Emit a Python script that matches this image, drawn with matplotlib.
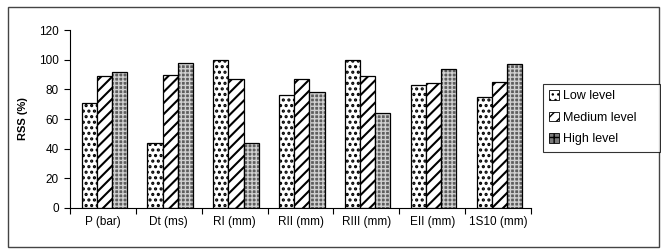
import matplotlib
matplotlib.use("Agg")
import matplotlib.pyplot as plt
import numpy as np
from matplotlib.patches import Rectangle, Patch

categories = ["P (bar)", "Dt (ms)", "RI (mm)", "RII (mm)", "RIII (mm)", "EII (mm)", "1S10 (mm)"]
low_level = [71, 44, 100, 76, 100, 83, 75]
medium_level = [89, 90, 87, 87, 89, 84, 85]
high_level = [92, 98, 44, 78, 64, 94, 97]
series_names = ["Low level", "Medium level", "High level"]
y_ticks = [0, 20, 40, 60, 80, 100, 120]

plt.rcParams['font.family'] = ['Liberation Sans', 'DejaVu Sans']
plt.rcParams['hatch.linewidth'] = 1.5

fig = plt.figure(figsize=(6.61, 2.49), dpi=100)
ax = fig.add_axes([70/661, 1-208/249, (531-70)/661, (208-30)/249])

x = np.arange(len(categories))
w = 0.23
offs = [-w + 0.02, 0.02, w + 0.02]

ax.bar(x + offs[0], low_level, w, facecolor='white', edgecolor='black', hatch='...', linewidth=0.9, label=series_names[0])
ax.bar(x + offs[1], medium_level, w, facecolor='white', edgecolor='black', hatch='///', linewidth=0.9, label=series_names[1])
plt.rcParams['hatch.linewidth'] = 1.0
ax.bar(x + offs[2], high_level, w, facecolor='#5e5e5e', edgecolor='#d0d0d0', hatch='++++', linewidth=0)
ax.bar(x + offs[2], high_level, w, facecolor='none', edgecolor='black', linewidth=0.9, label=series_names[2])

ax.set_xlim(-0.5, len(categories) - 0.5)
ax.set_ylim(0, 120)
ax.set_yticks(y_ticks)
ax.set_yticklabels([str(v) for v in y_ticks], fontsize=8.5)
ax.set_xticks(x)
ax.set_xticklabels(categories, fontsize=8.5)
ax.tick_params(axis='x', which='major', length=0, pad=6)
ax.set_xticks(np.arange(len(categories) + 1) - 0.5, minor=True)
ax.tick_params(axis='x', which='minor', length=4, direction='out', width=0.8)
ax.tick_params(axis='y', length=4, width=0.8, pad=4)
for s in ['top', 'right']:
    ax.spines[s].set_visible(False)
for s in ['left', 'bottom']:
    ax.spines[s].set_linewidth(0.8)
ax.set_ylabel("RSS (%)", fontsize=8, fontweight='bold', labelpad=8)

handles = [
    Patch(facecolor='white', edgecolor='black', hatch='...', linewidth=0.6),
    Patch(facecolor='white', edgecolor='black', hatch='///', linewidth=0.6),
    Patch(facecolor='#7a7a7a', edgecolor='black', hatch='++', linewidth=0.6),
]
leg = fig.legend(handles, series_names, loc='upper left',
                 bbox_to_anchor=(543/661, 1-150/249, (660-543)/661, (150-84)/249),
                 mode='expand',
                 fontsize=9, frameon=True, fancybox=False, edgecolor='black',
                 handlelength=0.8, handleheight=0.8, handletextpad=0.3, borderpad=0.5,
                 labelspacing=0.75, borderaxespad=0)
leg.get_frame().set_linewidth(0.8)

fig.patches.append(Rectangle((8/661, 1-247/249), (659-8)/661, (247-7)/249, transform=fig.transFigure,
                             fill=False, edgecolor='#444444', linewidth=1.0))

fig.savefig("out.png", dpi=100)
